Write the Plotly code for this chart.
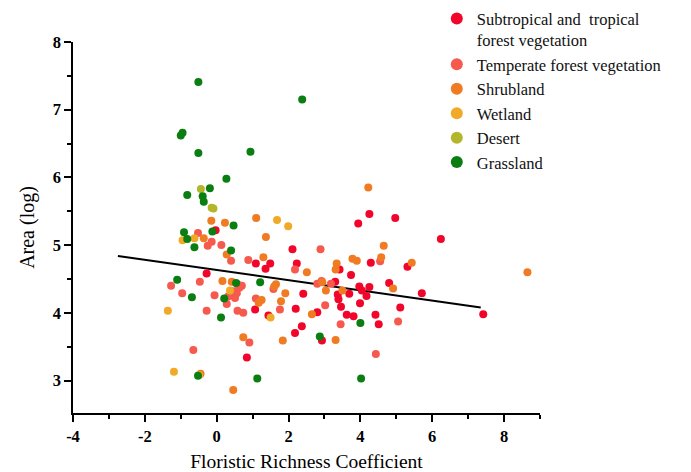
import plotly.graph_objects as go

# ---- data ----
sub_x = [-0.03, 2.11, 1.09, 1.49, 1.36, 2.23, -0.28, 2.41, 2.20, 2.80, 1.07, 1.44, 2.37, 2.18, 0.84, 2.93,
         4.25, 4.97, 3.94, 6.24, 4.29, 3.42, 5.31, 3.74, 3.30, 3.37, 3.39, 3.46, 3.69, 3.97, 4.04, 4.17,
         4.25, 4.80, 5.71, 3.99, 5.11, 3.62, 3.81, 4.42, 4.51, 7.42]
sub_y = [5.22, 4.94, 4.73, 4.73, 4.65, 4.73, 4.58, 4.28, 4.06, 4.01, 4.05, 3.96, 3.80, 3.70, 3.34, 3.59,
         5.46, 5.40, 5.32, 5.09, 4.74, 4.64, 4.68, 4.56, 4.46, 4.27, 4.20, 4.09, 4.28, 4.39, 4.33, 4.25,
         4.38, 4.44, 4.29, 4.14, 4.08, 3.97, 3.95, 3.97, 3.83, 3.98]

tem_x = [-0.52, -0.14, -0.25, 0.13, 2.89, 0.40, 0.88, 2.18, 2.80, 0.58, 0.70, 0.63, 1.58, -1.27, -0.47,
         -0.96, -0.06, 0.46, 0.56, 0.32, 0.51, 0.28, 1.09, 1.76, -0.28, 0.58, 0.74, 0.91, -0.65, 4.55,
         2.92, 3.18, 3.02, 3.45, 5.05, 4.43]
tem_y = [5.18, 5.05, 4.99, 5.00, 4.94, 4.77, 4.78, 4.64, 4.43, 4.42, 4.40, 4.37, 4.35, 4.40, 4.46,
         4.29, 4.26, 4.32, 4.29, 4.24, 4.22, 4.13, 4.21, 4.05, 4.03, 4.03, 4.00, 3.56, 3.45, 4.76,
         4.47, 4.43, 4.11, 3.83, 3.87, 3.39]

shr_x = [-0.15, 0.23, 1.10, 1.37, -0.36, 0.28, 1.30, 2.51, 0.16, 0.42, 1.65, 1.60, 1.25, 1.17, 1.91,
         1.79, 2.65, 0.74, 1.84, -0.45, 0.46, 4.22, 4.65, 3.78, 3.90, 4.58, 3.34, 3.31, 5.43, 2.94,
         3.04, 3.50, 4.91, 3.31, 8.65]
shr_y = [5.36, 5.33, 5.40, 5.12, 5.10, 4.86, 4.82, 4.60, 4.47, 4.46, 4.42, 4.39, 4.19, 4.15, 4.29,
         4.17, 3.98, 3.64, 3.59, 3.10, 2.86, 5.85, 4.99, 4.80, 4.77, 4.82, 4.73, 4.64, 4.74, 4.45,
         4.33, 4.33, 4.36, 3.60, 4.60]

wet_x = [1.68, 1.99, -0.95, -0.62, 0.37, -1.36, 1.50, -1.19, -0.49]
wet_y = [5.37, 5.28, 5.07, 5.10, 4.33, 4.03, 3.93, 3.13, 3.08]

des_x = [-0.44, -0.14, -0.09]
des_y = [5.83, 5.55, 5.54]

gra_x = [-0.51, 2.38, -1.00, -0.95, -0.51, 0.94, 0.27, -0.19, -0.82, -0.39, -0.36, 0.47, -0.12, -0.91,
         -0.82, -0.62, 0.40, 0.54, 1.21, -1.10, -0.69, 0.21, 0.12, 2.87, -0.52, 1.13, 4.00, 4.02]
gra_y = [7.41, 7.15, 6.62, 6.66, 6.36, 6.38, 5.98, 5.84, 5.74, 5.72, 5.64, 5.29, 5.20, 5.19,
         5.09, 4.97, 4.92, 4.44, 4.45, 4.49, 4.23, 4.21, 3.93, 3.65, 3.07, 3.03, 3.85, 3.03]

fit_x = [-2.75, 7.35]
fit_y = [4.84, 4.08]

series = [
    ("Subtropical and  tropical<br>forest vegetation", sub_x, sub_y, "#F2052A"),
    ("Temperate forest vegetation", tem_x, tem_y, "#F65A4E"),
    ("Shrubland", shr_x, shr_y, "#F07B22"),
    ("Wetland", wet_x, wet_y, "#F0AA28"),
    ("Desert", des_x, des_y, "#B3B52B"),
    ("Grassland", gra_x, gra_y, "#0A7E10"),
]

SERIF = "Liberation Serif, Times New Roman, serif"

fig = go.Figure()
fig.add_trace(go.Scatter(x=fit_x, y=fit_y, mode="lines", line=dict(color="black", width=2),
                         showlegend=False, hoverinfo="skip"))
for name, xs, ys, col in series:
    fig.add_trace(go.Scatter(x=xs, y=ys, mode="markers", name=name,
                             marker=dict(color=col, size=8, line=dict(width=0))))

fig.update_layout(
    width=683, height=464,
    margin=dict(l=65, r=151, t=34, b=59, autoexpand=False),
    plot_bgcolor="white", paper_bgcolor="white",
    font=dict(family=SERIF, color="black"),
    legend=dict(x=0.779, y=1.11, xanchor="left", yanchor="top", valign="top",
                font=dict(size=16.5, family=SERIF, color="#111"), bgcolor="rgba(0,0,0,0)",
                itemsizing="constant"),
    xaxis=dict(range=[-4, 9], tickvals=[-4, -2, 0, 2, 4, 6, 8], ticktext=["<b>-4</b>", "<b>-2</b>", "<b>0</b>",
               "<b>2</b>", "<b>4</b>", "<b>6</b>", "<b>8</b>"],
               showline=True, linecolor="black", linewidth=1.5, ticks="outside", ticklen=7,
               tickwidth=1.5, tickcolor="black", showgrid=False, zeroline=False,
               tickfont=dict(size=16.5, family=SERIF),
               minor=dict(dtick=1, tick0=-4, ticks="outside", ticklen=4, tickwidth=1.5, tickcolor="black"),
               title=dict(text="Floristic Richness Coefficient", font=dict(size=19.5, family=SERIF), standoff=10)),
    yaxis=dict(range=[2.52, 8], tickvals=[3, 4, 5, 6, 7, 8], ticktext=["<b>3</b>", "<b>4</b>", "<b>5</b>",
               "<b>6</b>", "<b>7</b>", "<b>8</b>"],
               showline=True, linecolor="black", linewidth=1.5, ticks="outside", ticklen=7,
               tickwidth=1.5, tickcolor="black", showgrid=False, zeroline=False,
               tickfont=dict(size=16.5, family=SERIF),
               minor=dict(dtick=0.5, tick0=3, ticks="outside", ticklen=4, tickwidth=1.5, tickcolor="black"),
               title=dict(text="Area (log)", font=dict(size=20, family=SERIF), standoff=13)),
)

fig.write_html("out.html")
